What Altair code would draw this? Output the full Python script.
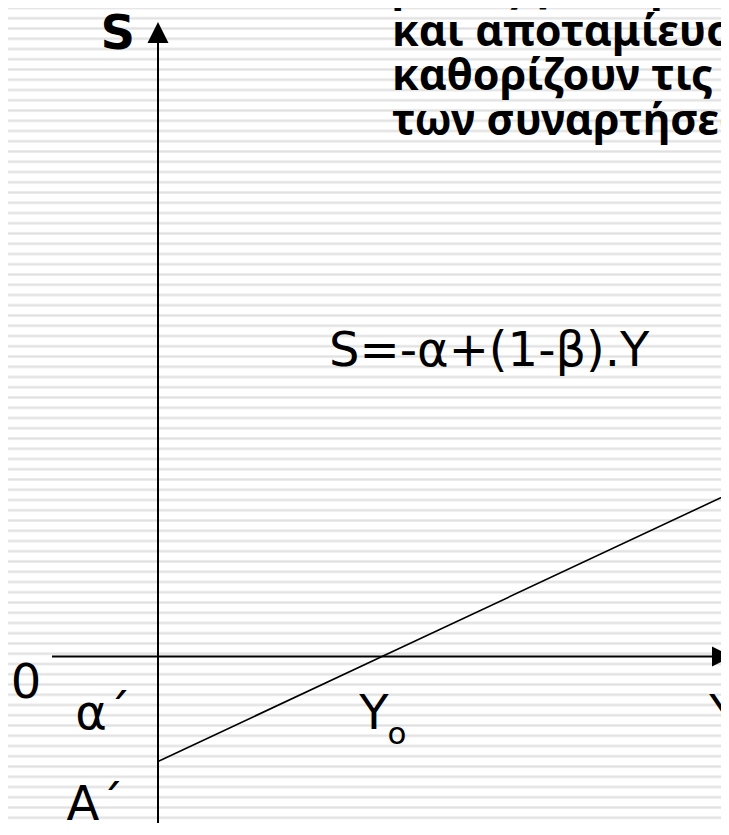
import altair as alt
import pandas as pd

# ---- values (income Y on x, saving S on y) ----
line_income = [0, 224, 575]          # Y: origin, Yo, right edge
line_saving = [-105, 0, 164.5]       # S = -α + (1-β)·Y  (A′ at -105)

# axes (x from 0-label side to arrow, y from bottom to arrow)
haxis_from, haxis_to = -106, 556
vaxis_from, vaxis_to = -180, 614
harrow_at = 564
varrow_at = 624

# labels
reg_text = ["S=-α+(1-β).Y", "0", "α΄", "Α΄", "Y", "Y"]
reg_x = [171, -132, -55, -63, 216, 566]
reg_y = [290.5, -41.5, -72.5, -163.5, -72.5, -72.5]
reg_align = ["left", "center", "center", "center", "center", "center"]

sub_text = ["o"]
sub_x = [239]
sub_y = [-87.5]

bold_text = ["S"]
bold_x = [-23]
bold_y = [607.5]

block_text = ["ροπές για την κατανάλωση", "και αποταμίευση",
              "καθορίζουν τις κλίσεις", "των συναρτήσεων."]
block_x = [234, 234, 234, 234]
block_y = [655.5, 610.5, 566.5, 521.5]

n_stripes = 82

W, H = 713, 815
FONT = "DejaVu Sans"

xs = alt.Scale(domain=[-150, 563], nice=False, zero=False)
ys = alt.Scale(domain=[-166.5, 648.5], nice=False, zero=False)
stripe_scale = alt.Scale(domain=[0, H / 10.25], reverse=True, nice=False, zero=False)

# background stripes
stripes = alt.Chart(alt.sequence(0, n_stripes, as_="n")).mark_rule(
    color="#ebebeb", strokeWidth=3
).encode(y=alt.Y("n:Q", scale=stripe_scale, axis=None))
stripes_c = alt.Chart(alt.sequence(0, n_stripes, as_="n")).mark_rule(
    color="#e1e1e1", strokeWidth=1
).encode(y=alt.Y("n:Q", scale=stripe_scale, axis=None))

line_df = pd.DataFrame({"Y": line_income, "S": line_saving})
sline = alt.Chart(line_df).mark_line(color="black", strokeWidth=1.6, clip=True).encode(
    x=alt.X("Y:Q", scale=xs, axis=None), y=alt.Y("S:Q", scale=ys, axis=None))

hax = alt.Chart(pd.DataFrame({"a": [haxis_from], "b": [haxis_to], "s": [0]})).mark_rule(
    color="black", strokeWidth=2).encode(
    x=alt.X("a:Q", scale=xs, axis=None), x2="b:Q", y=alt.Y("s:Q", scale=ys, axis=None))
vax = alt.Chart(pd.DataFrame({"a": [vaxis_from], "b": [vaxis_to], "y0": [0]})).mark_rule(
    color="black", strokeWidth=2).encode(
    y=alt.Y("a:Q", scale=ys, axis=None), y2="b:Q", x=alt.X("y0:Q", scale=xs, axis=None))

harrow = alt.Chart(pd.DataFrame({"Y": [harrow_at], "S": [0]})).mark_point(
    shape="M-1,-1L1,0L-1,1Z", size=400, filled=True, color="black", opacity=1, strokeWidth=0
).encode(x=alt.X("Y:Q", scale=xs, axis=None), y=alt.Y("S:Q", scale=ys, axis=None))
varrow = alt.Chart(pd.DataFrame({"Y": [0], "S": [varrow_at]})).mark_point(
    shape="M-1,1L1,1L0,-1Z", size=441, filled=True, color="black", opacity=1, strokeWidth=0
).encode(x=alt.X("Y:Q", scale=xs, axis=None), y=alt.Y("S:Q", scale=ys, axis=None))

def texts(txt, x, y, size, weight="normal", align="left", font=FONT):
    df = pd.DataFrame({"t": txt, "x": x, "y": y})
    return alt.Chart(df).mark_text(
        align=align, baseline="alphabetic", font=font, fontSize=size,
        fontWeight=weight, color="black"
    ).encode(x=alt.X("x:Q", scale=xs, axis=None), y=alt.Y("y:Q", scale=ys, axis=None), text="t:N")

reg_layers = [texts([t], [x], [y], 48, align=a) for t, x, y, a in zip(reg_text, reg_x, reg_y, reg_align)]
sub = texts(sub_text, sub_x, sub_y, 31, align="center")
bold = texts(bold_text, bold_x, bold_y, 48, weight="bold", align="right")
block = texts(block_text, block_x, block_y, 43, weight="bold", align="left", font="Noto Sans")

chart = alt.layer(
    stripes, stripes_c, sline, hax, vax, harrow, varrow, *reg_layers, sub, bold, block
).resolve_scale(y="independent").properties(
    width=W, height=H, padding=0, background="white",
    autosize=alt.AutoSizeParams(type="none")
).configure_view(stroke=None)

chart.save("out.html", embed_options={"renderer": "svg", "actions": False})
